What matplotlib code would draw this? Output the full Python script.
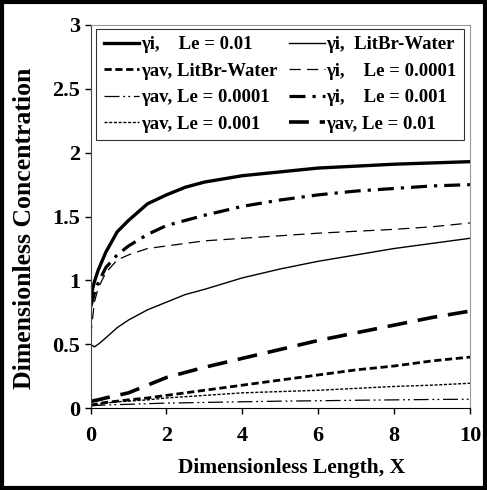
import matplotlib
matplotlib.use("Agg")
from matplotlib import pyplot as plt
from matplotlib.patches import Rectangle

plt.rcParams['font.family'] = ['Liberation Serif', 'DejaVu Serif']
plt.rcParams['font.weight'] = 'bold'

# x positions (dimensionless length)
x = [0, 0.1, 0.2, 0.4, 0.7, 1, 1.5, 2, 2.5, 3, 4, 5, 6, 7, 8, 9, 10]

yi_le01 = [0.87, 0.99, 1.08, 1.22, 1.38, 1.47, 1.60, 1.67, 1.73, 1.77, 1.82, 1.85, 1.88, 1.895, 1.91, 1.92, 1.93]
yi_le001 = [0.79, 0.90, 0.98, 1.10, 1.20, 1.27, 1.36, 1.43, 1.47, 1.51, 1.58, 1.63, 1.67, 1.70, 1.72, 1.74, 1.75]
yi_le0001 = [0.56, 0.83, 0.94, 1.06, 1.16, 1.20, 1.25, 1.27, 1.29, 1.31, 1.33, 1.35, 1.37, 1.385, 1.40, 1.42, 1.45]
yi_libr = [0.50, 0.48, 0.50, 0.55, 0.63, 0.69, 0.77, 0.83, 0.89, 0.93, 1.02, 1.09, 1.15, 1.20, 1.25, 1.29, 1.33]
yav_le01 = [0.05, 0.06, 0.065, 0.08, 0.10, 0.12, 0.18, 0.24, 0.28, 0.32, 0.39, 0.46, 0.53, 0.59, 0.65, 0.71, 0.76]
yav_libr = [0.02, 0.03, 0.035, 0.045, 0.055, 0.065, 0.08, 0.10, 0.12, 0.14, 0.18, 0.22, 0.26, 0.30, 0.33, 0.37, 0.40]
yav_le001 = [0.02, 0.025, 0.03, 0.04, 0.05, 0.055, 0.065, 0.08, 0.09, 0.10, 0.12, 0.13, 0.14, 0.155, 0.17, 0.18, 0.195]
yav_le0001 = [0.02, 0.02, 0.022, 0.025, 0.028, 0.03, 0.035, 0.04, 0.042, 0.045, 0.05, 0.055, 0.058, 0.062, 0.065, 0.068, 0.07]

g = '\u03b3'

fig = plt.figure(figsize=(4.87, 4.90), dpi=100)
ax = fig.add_axes([0.186, 0.167, 0.779, 0.782])

h0, = ax.plot(x, yi_le01, color='black', lw=2.4, ls='-', label=g + 'i,    Le = 0.01')
h1, = ax.plot(x, yi_libr, color='black', lw=1.0, ls='-', label=g + 'i,  LitBr-Water')
h2, = ax.plot(x, yav_libr, color='black', lw=2.0, ls=(0, (2.6, 1.3)), label=g + 'av, LitBr-Water')
h3, = ax.plot(x, yi_le0001, color='black', lw=0.9, ls=(0, (9, 5)), label=g + 'i,    Le = 0.0001')
h4, = ax.plot(x, yav_le0001, color='black', lw=0.9, ls=(0, (12, 3, 1.5, 2.5, 1.5, 3)), label=g + 'av, Le = 0.0001')
h5, = ax.plot(x, yi_le001, color='black', lw=2.3, ls=(0, (5, 2.2, 1, 2.2)), label=g + 'i,    Le = 0.001')
h6, = ax.plot(x, yav_le001, color='black', lw=1.0, ls=(0, (2.2, 1.2)), label=g + 'av, Le = 0.001')
h7, = ax.plot(x, yav_le01, color='black', lw=2.6, ls=(0, (5.5, 3)), label=g + 'av, Le = 0.01')

ax.set_xlim(0, 10)
ax.set_ylim(0, 3)
ax.set_xticks([0, 2, 4, 6, 8, 10])
ax.set_yticks([0, 0.5, 1, 1.5, 2, 2.5, 3])
ax.set_yticklabels(['0', '0.5', '1', '1.5', '2', '2.5', '3'])
ax.tick_params(direction='out', length=4, labelsize=16, width=1)
ax.tick_params(axis='x', pad=9)
for s in ['top', 'right']:
    ax.spines[s].set_color('#999999')
ax.spines['left'].set_color('#444444')

ax.set_xlabel('Dimensionless Length, X', fontsize=15.5, fontweight='bold')
ax.xaxis.set_label_coords(0.53, -0.13)
ax.set_ylabel('Dimensionless Concentration', fontsize=18.5, fontweight='bold')
ax.yaxis.set_label_coords(-0.145, 0.47)

# legend is filled column by column, so order handles to read row by row
handles = [h0, h2, h4, h6, h1, h3, h5, h7]
leg = ax.legend(handles=handles, loc='upper left', bbox_to_anchor=(0.015, 0.99), ncol=2,
                fontsize=13.5, frameon=True, fancybox=False, edgecolor='black',
                handlelength=1.9, handletextpad=0.1, columnspacing=0.6,
                labelspacing=0.5, borderpad=0.4, borderaxespad=0)
leg.get_frame().set_linewidth(0.8)

fig.patches.append(Rectangle((0.004, 0.004), 0.992, 0.992, transform=fig.transFigure,
                             fill=False, edgecolor='black', lw=3))

fig.savefig('out.png', dpi=100)
